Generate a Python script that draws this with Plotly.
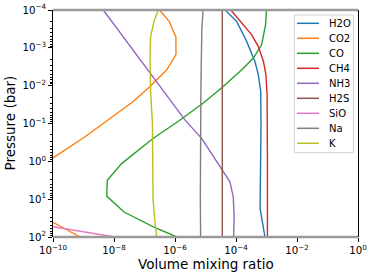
import plotly.graph_objects as go

# ---------------- data (log10 pressure [bar], log10 volume mixing ratio) ----------------
species = ["H2O", "CO2", "CO", "CH4", "NH3", "H2S", "SiO", "Na", "K"]
colors = ["#1f77b4", "#ff7f0e", "#2ca02c", "#d62728", "#9467bd",
          "#8c564b", "#e377c2", "#7f7f7f", "#bcbd22"]

h2o_logp = [-4.0, -3.70, -3.17, -2.64, -2.29, -1.85, -1.0, 0.0, 1.25, 2.0]
h2o_logx = [-4.36, -3.98, -3.65, -3.38, -3.27, -3.19, -3.18, -3.19, -3.21, -3.05]

co2_logp = [-4.0, -3.70, -3.28, -2.82, -2.42, -1.98, -1.58, -1.03, -0.65, -0.09, 0.5, 1.0, 1.4, 1.61, 2.0]
co2_logx = [-6.51, -6.19, -5.97, -5.97, -6.27, -6.82, -7.37, -8.30, -8.95, -10.0, -11.2, -11.5, -10.5, -10.0, -9.11]

co_logp = [-4.0, -3.61, -3.08, -2.73, -2.42, -1.98, -1.54, -1.06, -0.61, 0.06, 0.5, 0.92, 1.34, 1.73, 2.0]
co_logx = [-3.0, -3.03, -3.16, -3.43, -3.81, -4.42, -5.07, -5.89, -6.71, -7.75, -8.22, -8.24, -7.67, -6.71, -5.94]

ch4_logp = [-4.0, -3.61, -3.35, -3.04, -2.64, -2.29, -1.76, 0.0, 2.0]
ch4_logx = [-4.17, -3.76, -3.49, -3.27, -3.10, -3.02, -2.98, -2.97, -2.97]

nh3_logp = [-4.0, -1.09, -0.60, 0.23, 0.54, 0.94, 1.47, 2.0]
nh3_logx = [-8.35, -5.67, -5.12, -4.47, -4.20, -4.09, -4.06, -4.08]

h2s_logp = [-4.0, 2.0]
h2s_logx = [-4.45, -4.45]

sio_logp = [-4.0, 1.5, 1.73, 2.0]
sio_logx = [-30.0, -11.7, -10.0, -7.97]

na_logp = [-4.0, -3.5, -2.0, 0.0, 1.0, 2.0]
na_logx = [-5.08, -5.12, -5.15, -5.17, -5.17, -5.16]

k_logp = [-4.0, -3.7, -3.3, -2.75, -1.85, -1.0, 0.0, 1.0, 1.5, 2.0]
k_logx = [-6.55, -6.69, -6.80, -6.82, -6.80, -6.74, -6.73, -6.72, -6.67, -6.60]

x_tickvals = [1e-10, 1e-8, 1e-6, 1e-4, 1e-2, 1e0]
x_ticktext = ["10<sup>−10</sup>", "10<sup>−8</sup>", "10<sup>−6</sup>",
              "10<sup>−4</sup>", "10<sup>−2</sup>", "10<sup>0</sup>"]
y_tickvals = [1e-4, 1e-3, 1e-2, 1e-1, 1e0, 1e1, 1e2]
y_ticktext = ["10<sup>−4</sup>", "10<sup>−3</sup>", "10<sup>−2</sup>", "10<sup>−1</sup>",
              "10<sup>0</sup>", "10<sup>1</sup>", "10<sup>2</sup>"]

series = [
    (h2o_logp, h2o_logx), (co2_logp, co2_logx), (co_logp, co_logx),
    (ch4_logp, ch4_logx), (nh3_logp, nh3_logx), (h2s_logp, h2s_logx),
    (sio_logp, sio_logx), (na_logp, na_logx), (k_logp, k_logx),
]

# ---------------- figure ----------------
W, H = 374, 276
ML, MR, MT, MB = 53, 16, 10, 39
PW, PH = W - ML - MR, H - MT - MB
FONT = "DejaVu Sans"

def px2x(px):
    return (px - ML) / PW

def py2y(py):
    return (H - MB - py) / PH

fig = go.Figure()
for name, col, (lp, lx) in zip(species, colors, series):
    fig.add_trace(go.Scatter(
        x=[10 ** v for v in lx], y=[10 ** p for p in lp],
        mode="lines", name=name, line=dict(color=col, width=1.4),
        showlegend=False, hoverinfo="skip",
    ))

shapes = []
annotations = []
# frame: grey top/bottom, black left/right
shapes.append(dict(type="line", xref="paper", yref="paper", x0=0, x1=1, y0=1, y1=1,
                   line=dict(color="#9a9a9a", width=2.6)))
shapes.append(dict(type="line", xref="paper", yref="paper", x0=0, x1=1, y0=0, y1=0,
                   line=dict(color="#9a9a9a", width=2.6)))

# legend box (manual, matplotlib style)
shapes.append(dict(type="rect", xref="paper", yref="paper",
                   x0=px2x(294.3), x1=px2x(353.3), y0=py2y(152.7), y1=py2y(15),
                   line=dict(color="#d0d0d0", width=1), fillcolor="rgba(255,255,255,0.85)",
                   layer="above"))
for i, (name, col) in enumerate(zip(species, colors)):
    yy = 23.3 + 15 * i
    shapes.append(dict(type="line", xref="paper", yref="paper",
                       x0=px2x(297), x1=px2x(319), y0=py2y(yy), y1=py2y(yy),
                       line=dict(color=col, width=1.5), layer="above"))
    annotations.append(dict(text=name, xref="paper", yref="paper",
                            x=px2x(326.5), y=py2y(yy), xanchor="left", yanchor="middle",
                            showarrow=False, font=dict(family=FONT, size=10, color="black")))

# axis titles
annotations.append(dict(text="Volume mixing ratio", xref="paper", yref="paper",
                        x=0.5, y=py2y(264), xanchor="center", yanchor="middle",
                        showarrow=False, font=dict(family=FONT, size=13.5, color="black")))
annotations.append(dict(text="Pressure (bar)", xref="paper", yref="paper",
                        x=px2x(9), y=0.5, xanchor="center", yanchor="middle", textangle=-90,
                        showarrow=False, font=dict(family=FONT, size=13.5, color="black")))

fig.update_layout(
    width=W, height=H,
    margin=dict(l=ML, r=MR, t=MT, b=MB),
    paper_bgcolor="white", plot_bgcolor="white",
    font=dict(family=FONT, size=10, color="black"),
    shapes=shapes, annotations=annotations,
    showlegend=False, hovermode=False,
)
fig.update_xaxes(
    type="log", range=[-10, 0], automargin=False,
    tickmode="array", tickvals=x_tickvals, ticktext=x_ticktext,
    showgrid=False, zeroline=False,
    showline=False,
    ticks="outside", ticklen=4, tickcolor="black", tickwidth=1,
    tickfont=dict(family=FONT, size=10.2, color="black"),
)
fig.update_yaxes(
    type="log", range=[2, -4], automargin=False,
    tickmode="array", tickvals=y_tickvals, ticktext=y_ticktext,
    showgrid=False, zeroline=False,
    showline=True, linecolor="black", linewidth=1, mirror=True,
    ticks="outside", ticklen=4, tickcolor="black", tickwidth=1,
    minor=dict(ticks="outside", ticklen=2, tickcolor="black", dtick="D1", showgrid=False),
    tickfont=dict(family=FONT, size=10.2, color="black"),
)

fig.write_html("out.html",
               config={"displayModeBar": False, "staticPlot": True},
               post_script="document.body.style.margin='0';document.body.style.overflow='hidden';")
